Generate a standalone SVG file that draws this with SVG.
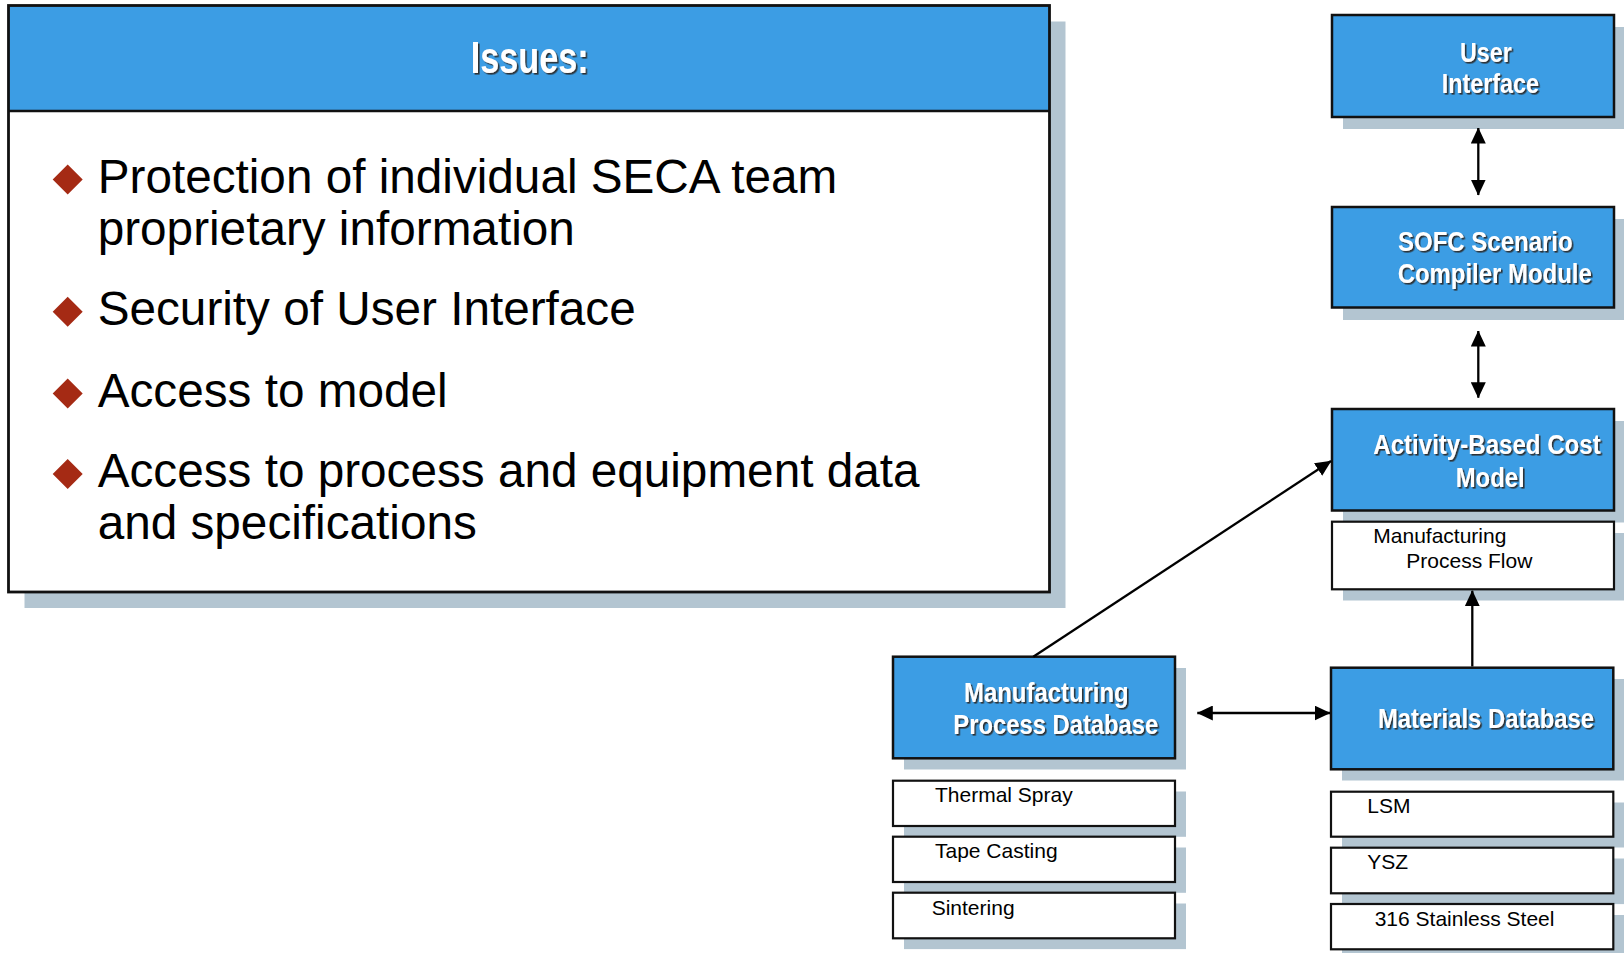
<svg xmlns="http://www.w3.org/2000/svg" width="1624" height="953" viewBox="0 0 1624 953">
<style>
.shadow{fill:#B3C5D1}
.blue{fill:#3C9DE4;stroke:#111;stroke-width:2.5}
.white{fill:#fff;stroke:#111;stroke-width:2.2}
.lbl{font-family:"Liberation Sans Narrow","Arial Narrow","Liberation Sans",Arial,sans-serif;font-weight:bold;font-size:28px;fill:#fff}
.hdr{font-family:"Liberation Sans Narrow","Arial Narrow","Liberation Sans",Arial,sans-serif;font-weight:bold;font-size:44px;fill:#fff}
.sub{font-family:"Liberation Sans",Arial,sans-serif;font-size:21px;fill:#000}
.body{font-family:"Liberation Sans",Arial,sans-serif;font-size:47.7px;fill:#000}
.bullet{fill:#A52A14}
.conn{stroke:#000;stroke-width:2.3;fill:none}
</style>
<defs>
<filter id="ts" x="-10%" y="-30%" width="120%" height="160%">
<feDropShadow dx="1.6" dy="1.6" stdDeviation="0.5" flood-color="#2a2a2a" flood-opacity="0.95"/>
</filter>
<marker id="ah" viewBox="0 0 16 15" markerWidth="16" markerHeight="15" refX="15.5" refY="7.5" orient="auto-start-reverse" markerUnits="userSpaceOnUse">
<path d="M0,0 L16,7.5 L0,15 Z" fill="#000"/>
</marker>
</defs>
<rect width="1624" height="953" fill="#fff"/>

<g id="issues">
<rect class="shadow" x="24.5" y="21.5" width="1041" height="586.5"/>
<rect x="8.5" y="5.5" width="1041" height="586.5" fill="#fff"/>
<rect x="8.5" y="5.5" width="1041" height="105.5" fill="#3C9DE4"/>
<line x1="8.5" y1="111" x2="1049.5" y2="111" stroke="#111" stroke-width="2.7"/>
<rect x="8.5" y="5.5" width="1041" height="586.5" fill="none" stroke="#111" stroke-width="2.8"/>
<text class="hdr" x="470.7" y="73.3" textLength="118" lengthAdjust="spacingAndGlyphs" filter="url(#ts)">Issues:</text>
<path class="bullet" d="M67.7,164.4 L82.7,179.4 L67.7,194.4 L52.7,179.4 Z"/>
<path class="bullet" d="M67.7,296.7 L82.7,311.7 L67.7,326.7 L52.7,311.7 Z"/>
<path class="bullet" d="M67.7,378.4 L82.7,393.4 L67.7,408.4 L52.7,393.4 Z"/>
<path class="bullet" d="M67.7,459 L82.7,474 L67.7,489 L52.7,474 Z"/>
<text class="body" x="97.7" y="192.7">Protection of individual SECA team</text>
<text class="body" x="97.7" y="245">proprietary information</text>
<text class="body" x="97.7" y="325">Security of User Interface</text>
<text class="body" x="97.7" y="406.7">Access to model</text>
<text class="body" x="97.7" y="487.3">Access to process and equipment data</text>
<text class="body" x="97.7" y="539.3">and specifications</text>
</g>

<g id="user-interface">
<rect class="shadow" x="1343" y="27" width="282" height="102"/>
<rect class="blue" x="1332" y="15" width="282" height="102"/>
<g filter="url(#ts)">
<text class="lbl" x="1460" y="61.7" textLength="51.7" lengthAdjust="spacingAndGlyphs">User</text>
<text class="lbl" x="1441.7" y="92.7" textLength="97.3" lengthAdjust="spacingAndGlyphs">Interface</text>
</g>
</g>

<g id="sofc-compiler">
<rect class="shadow" x="1343" y="219" width="282" height="101"/>
<rect class="blue" x="1332" y="207" width="282" height="100.5"/>
<g filter="url(#ts)">
<text class="lbl" x="1398" y="250.7" textLength="174.7" lengthAdjust="spacingAndGlyphs">SOFC Scenario</text>
<text class="lbl" x="1397.7" y="283.3" textLength="194" lengthAdjust="spacingAndGlyphs">Compiler Module</text>
</g>
</g>

<g id="activity-cost-model">
<rect class="shadow" x="1343" y="421" width="282" height="101.5"/>
<rect class="blue" x="1332" y="409" width="282" height="101.5"/>
<g filter="url(#ts)">
<text class="lbl" x="1373.3" y="454" textLength="227.4" lengthAdjust="spacingAndGlyphs">Activity-Based Cost</text>
<text class="lbl" x="1455.7" y="486.7" textLength="69" lengthAdjust="spacingAndGlyphs">Model</text>
</g>
</g>

<g id="process-flow">
<rect class="shadow" x="1343" y="533" width="282" height="67.5"/>
<rect class="white" x="1332" y="521.7" width="282" height="67.6"/>
<text class="sub" x="1373.3" y="542.7">Manufacturing</text>
<text class="sub" x="1406.3" y="567.7">Process Flow</text>
</g>

<g id="mfg-process-db">
<rect class="shadow" x="904" y="668" width="282" height="101.5"/>
<rect class="blue" x="893" y="656.7" width="282" height="101.6"/>
<g filter="url(#ts)">
<text class="lbl" x="964" y="701.7" textLength="164.7" lengthAdjust="spacingAndGlyphs">Manufacturing</text>
<text class="lbl" x="953.3" y="734.3" textLength="205" lengthAdjust="spacingAndGlyphs">Process Database</text>
</g>
</g>

<g id="materials-db">
<rect class="shadow" x="1342" y="679" width="282" height="101.5"/>
<rect class="blue" x="1331" y="667.7" width="282.3" height="101.6"/>
<g filter="url(#ts)">
<text class="lbl" x="1378" y="728.3" textLength="216" lengthAdjust="spacingAndGlyphs">Materials Database</text>
</g>
</g>

<g id="thermal-spray">
<rect class="shadow" x="904" y="791.5" width="282" height="45.3"/>
<rect class="white" x="893" y="780.7" width="282" height="45.3"/>
<text class="sub" x="935" y="801.7">Thermal Spray</text>
</g>
<g id="tape-casting">
<rect class="shadow" x="904" y="847.5" width="282" height="45.3"/>
<rect class="white" x="893" y="836.7" width="282" height="45.3"/>
<text class="sub" x="935" y="858.3">Tape Casting</text>
</g>
<g id="sintering">
<rect class="shadow" x="904" y="903.5" width="282" height="45.6"/>
<rect class="white" x="893" y="892.7" width="282" height="45.6"/>
<text class="sub" x="931.7" y="915">Sintering</text>
</g>

<g id="lsm">
<rect class="shadow" x="1342" y="802.5" width="282" height="45"/>
<rect class="white" x="1331" y="791.7" width="282.3" height="45"/>
<text class="sub" x="1367.3" y="812.7">LSM</text>
</g>
<g id="ysz">
<rect class="shadow" x="1342" y="858.5" width="282" height="45.6"/>
<rect class="white" x="1331" y="847.7" width="282.3" height="45.6"/>
<text class="sub" x="1367.3" y="869.3">YSZ</text>
</g>
<g id="stainless-316">
<rect class="shadow" x="1342" y="915" width="282" height="45.3"/>
<rect class="white" x="1331" y="904" width="282.3" height="45.3"/>
<text class="sub" x="1374.7" y="926">316 Stainless Steel</text>
</g>

<g id="connectors">
<line class="conn" x1="1478.3" y1="128" x2="1478.3" y2="195" marker-start="url(#ah)" marker-end="url(#ah)"/>
<line class="conn" x1="1478.3" y1="331" x2="1478.3" y2="397.7" marker-start="url(#ah)" marker-end="url(#ah)"/>
<line class="conn" x1="1033.3" y1="656.7" x2="1331" y2="461" marker-end="url(#ah)"/>
<line class="conn" x1="1197.3" y1="713" x2="1330" y2="713" marker-start="url(#ah)" marker-end="url(#ah)"/>
<line class="conn" x1="1472.3" y1="666.5" x2="1472.3" y2="590.8" marker-end="url(#ah)"/>
</g>
</svg>
